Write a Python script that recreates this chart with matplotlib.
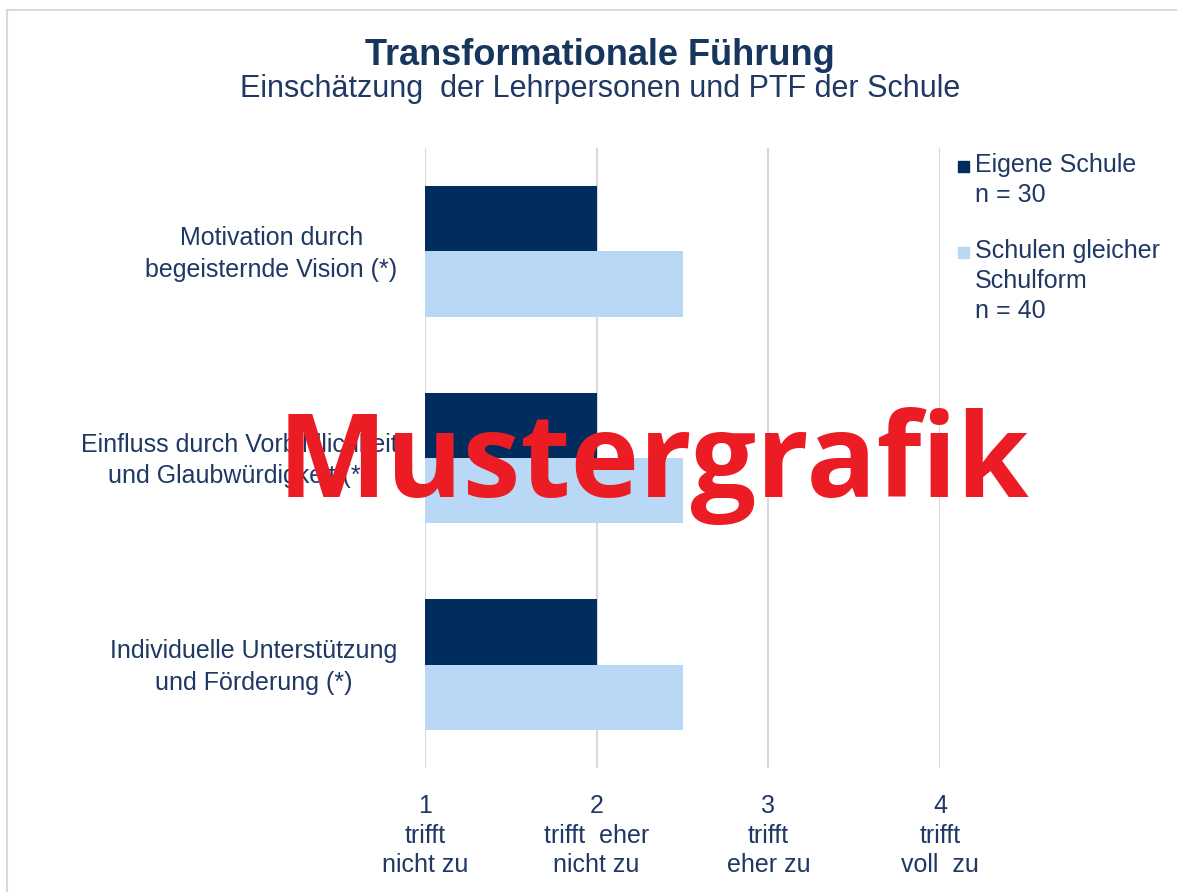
import matplotlib
matplotlib.use("Agg")
import matplotlib.pyplot as plt
from matplotlib.patches import Rectangle
from matplotlib.transforms import ScaledTranslation
import numpy as np

categories = ["Motivation durch\nbegeisternde Vision (*)",
              "Einfluss durch Vorbildlichkeit\nund Glaubwürdigkeit (*)",
              "Individuelle Unterstützung\nund Förderung (*)"]
eigene = [2.0, 2.0, 2.0]
gleiche = [2.5, 2.5, 2.5]
series_labels = ["Eigene Schule\nn = 30", "Schulen gleicher\nSchulform\nn = 40"]
xticks = [1, 2, 3, 4]
xticklabels = ["1\ntrifft\nnicht zu", "2\ntrifft  eher\nnicht zu", "3\ntrifft\neher zu", "4\ntrifft\nvoll  zu"]

TXT = "#1F3864"
DARK = "#002D5E"
LIGHT = "#B8D8F6"
FS = 18

plt.rcParams['font.family'] = ['Liberation Sans', 'DejaVu Sans']

fig = plt.figure(figsize=(11.77, 8.92), dpi=100)
fig.patches.append(Rectangle((7/1177, -0.1), 1.2, 1 - 10/892 + 0.1, transform=fig.transFigure,
                             fill=False, edgecolor="#D9D9D9", linewidth=1.5, zorder=0))

ax = fig.add_axes([425/1177, 1 - 768/892, 515/1177, 620/892])
y = np.arange(len(categories))
h = 65/206
series_colors = [DARK, LIGHT]
ax.barh(y - h/2, np.array(eigene) - 1, left=1, height=h, color=DARK, zorder=2)
ax.barh(y + h/2, np.array(gleiche) - 1, left=1, height=h, color=LIGHT, zorder=2)
ax.set_xlim(1, 4)
ax.set_ylim(len(categories) - 0.5, -0.5)
ax.set_xticks(xticks)
ax.set_xticklabels(xticklabels, fontsize=FS, color=TXT, linespacing=1.29)
ax.set_yticks(y)
ax.set_yticklabels(categories, fontsize=FS, color=TXT, linespacing=1.41, ha='right', multialignment='center')
ax.tick_params(axis='both', length=0)
ax.tick_params(axis='x', pad=19)
ax.tick_params(axis='y', pad=20)
for lab in ax.get_yticklabels():
    lab.set_transform(lab.get_transform() + ScaledTranslation(0, 4/100, fig.dpi_scale_trans))
for s in ax.spines.values():
    s.set_visible(False)
ax.grid(axis='x', color="#D9D9D9", linewidth=1.5, zorder=0)
ax.set_axisbelow(True)

fig.text(600/1177, 1 - 65/892, "Transformationale Führung", ha='center', va='baseline',
         fontsize=26, fontweight='bold', color="#17365D")
fig.text(600/1177, 1 - 97/892, "Einschätzung  der Lehrpersonen und PTF der Schule", ha='center', va='baseline',
         fontsize=22, color=TXT)

# legend (manual, square aligned with first label line)
leg_tops = [153, 239]
for lbl, col, top in zip(series_labels, series_colors, leg_tops):
    fig.patches.append(Rectangle((958/1177, 1 - (top + 19)/892), 11/1177, 11/892,
                                 transform=fig.transFigure, color=col))
    fig.text(975/1177, 1 - top/892, lbl, ha='left', va='top', fontsize=FS, color=TXT, linespacing=1.31)

wm = fig.text(654/1177, 1 - 497/892, "Mustergrafik", ha='center', va='baseline',
              fontsize=100, fontweight='bold', color="#EC1C24", family=['Open Sans', 'DejaVu Sans'], zorder=10)
fig.canvas.draw()
w = wm.get_window_extent().width
wm.set_fontsize(100 * 752 / w)

fig.savefig("out.png", dpi=100)
